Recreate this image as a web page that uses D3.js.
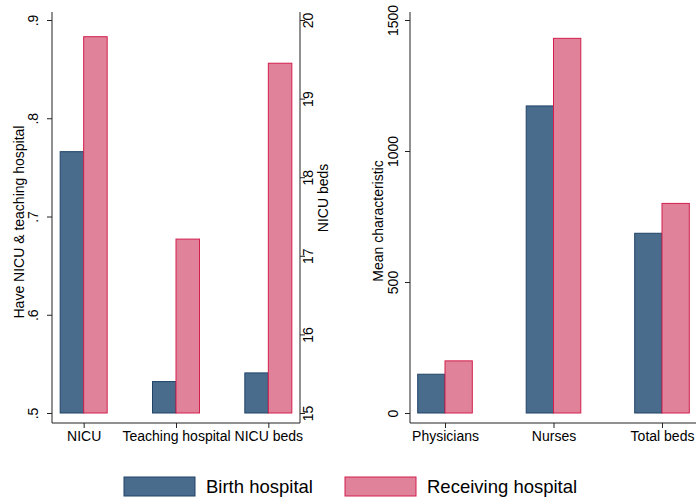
<!DOCTYPE html>
<html>
<head>
<meta charset="utf-8">
<script src="https://cdn.jsdelivr.net/npm/d3@7"></script>
<style>
  body { margin: 0; background: #fff; }
  text { font-family: "Liberation Sans", Arial, sans-serif; fill: #000; }
</style>
</head>
<body>
<svg id="chart" width="696" height="501"></svg>
<script>
// data
var groups = ["Birth hospital", "Receiving hospital"];
var leftCats = ["NICU", "Teaching hospital", "NICU beds"];
var leftBirth = [0.766, 0.532, 15.51];
var leftReceiving = [0.883, 0.677, 19.45];
var rightCats = ["Physicians", "Nurses", "Total beds"];
var rightBirth = [148, 1172, 686];
var rightReceiving = [199, 1430, 800];
var shareTicks = [0.5, 0.6, 0.7, 0.8, 0.9];
var bedTicks = [15, 16, 17, 18, 19, 20];
var meanTicks = [0, 500, 1000, 1500];

var fills = ["#496b8c", "#e0839a"],
    strokes = ["#1f4468", "#d21f4d"];

var svg = d3.select("#chart");
var plotTop = 20, plotBase = 413, axisY = 423, axisTop = 12;

// scales
var yShare = d3.scaleLinear().domain([0.5, 0.9]).range([plotBase, plotTop]);
var yBeds = d3.scaleLinear().domain([15, 20]).range([plotBase, plotTop]);
var yMean = d3.scaleLinear().domain([0, 1500]).range([plotBase, plotTop]);

var xLeft = d3.scalePoint().domain(leftCats).range([52, 300]).padding(0.343);
var xRight = d3.scalePoint().domain(rightCats).range([410, 697]).padding(0.3226);

function stripZero(d) { return d3.format(".1f")(d).replace(/^0/, ""); }

function drawBars(x, rows, bw) {
    var inner = d3.scaleBand().domain(groups).range([-bw, bw]);
    var g = svg.append("g");
    rows.forEach(function (r) {
        groups.forEach(function (grp, j) {
            g.append("rect")
                .attr("x", x(r.cat) + inner(grp))
                .attr("y", r.scale(r.vals[j]))
                .attr("width", inner.bandwidth())
                .attr("height", r.scale(r.scale.domain()[0]) - r.scale(r.vals[j]))
                .attr("fill", fills[j])
                .attr("stroke", strokes[j])
                .attr("stroke-width", 1);
        });
    });
}

// left panel bars
drawBars(xLeft, leftCats.map(function (c, i) {
    return { cat: c, vals: [leftBirth[i], leftReceiving[i]], scale: i < 2 ? yShare : yBeds };
}), 23.5);

// right panel bars
drawBars(xRight, rightCats.map(function (c, i) {
    return { cat: c, vals: [rightBirth[i], rightReceiving[i]], scale: yMean };
}), 27.3);

function yAxis(axisFn, scale, ticks, fmt, xPos, labelX) {
    var g = svg.append("g")
        .attr("transform", "translate(" + xPos + ",0)")
        .call(axisFn(scale).tickValues(ticks).tickFormat(fmt).tickSize(5).tickSizeOuter(0));
    g.select(".domain").remove();
    g.selectAll("line").attr("stroke", "#222");
    g.selectAll("text")
        .attr("x", null).attr("dy", null)
        .attr("text-anchor", "middle")
        .attr("transform", "translate(" + labelX + ",0) rotate(-90)")
        .style("font-size", "14px");
    g.append("line").attr("x1", 0).attr("x2", 0)
        .attr("y1", axisTop).attr("y2", axisY).attr("stroke", "#222");
}

function xAxis(scale, x0, x1) {
    var g = svg.append("g")
        .attr("transform", "translate(0," + axisY + ")")
        .call(d3.axisBottom(scale).tickSize(5).tickSizeOuter(0));
    g.select(".domain").remove();
    g.selectAll("line").attr("stroke", "#222");
    g.selectAll("text").style("font-size", "14px");
    g.append("line").attr("x1", x0).attr("x2", x1).attr("y1", 0).attr("y2", 0).attr("stroke", "#222");
}

yAxis(d3.axisLeft, yShare, shareTicks, stripZero, 52, -14);
yAxis(d3.axisRight, yBeds, bedTicks, d3.format("d"), 300, 13);
yAxis(d3.axisLeft, yMean, meanTicks, d3.format("d"), 410, -12);
xAxis(xLeft, 52, 300);
xAxis(xRight, 410, 697);

// axis titles
function vTitle(txt, x, y) {
    svg.append("text")
        .attr("transform", "translate(" + x + "," + y + ") rotate(-90)")
        .attr("text-anchor", "middle")
        .style("font-size", "14px")
        .text(txt);
}
vTitle("Have NICU & teaching hospital", 24, 222);
vTitle("NICU beds", 328, 198);
vTitle("Mean characteristic", 383, 221);

// legend
var legX = [124, 345];
groups.forEach(function (grp, j) {
    svg.append("rect")
        .attr("x", legX[j]).attr("y", 477)
        .attr("width", 71).attr("height", 19)
        .attr("fill", fills[j]).attr("stroke", strokes[j]);
    svg.append("text")
        .attr("x", legX[j] + 82).attr("y", 493)
        .style("font-size", "18.5px")
        .text(grp);
});
</script>
</body>
</html>
